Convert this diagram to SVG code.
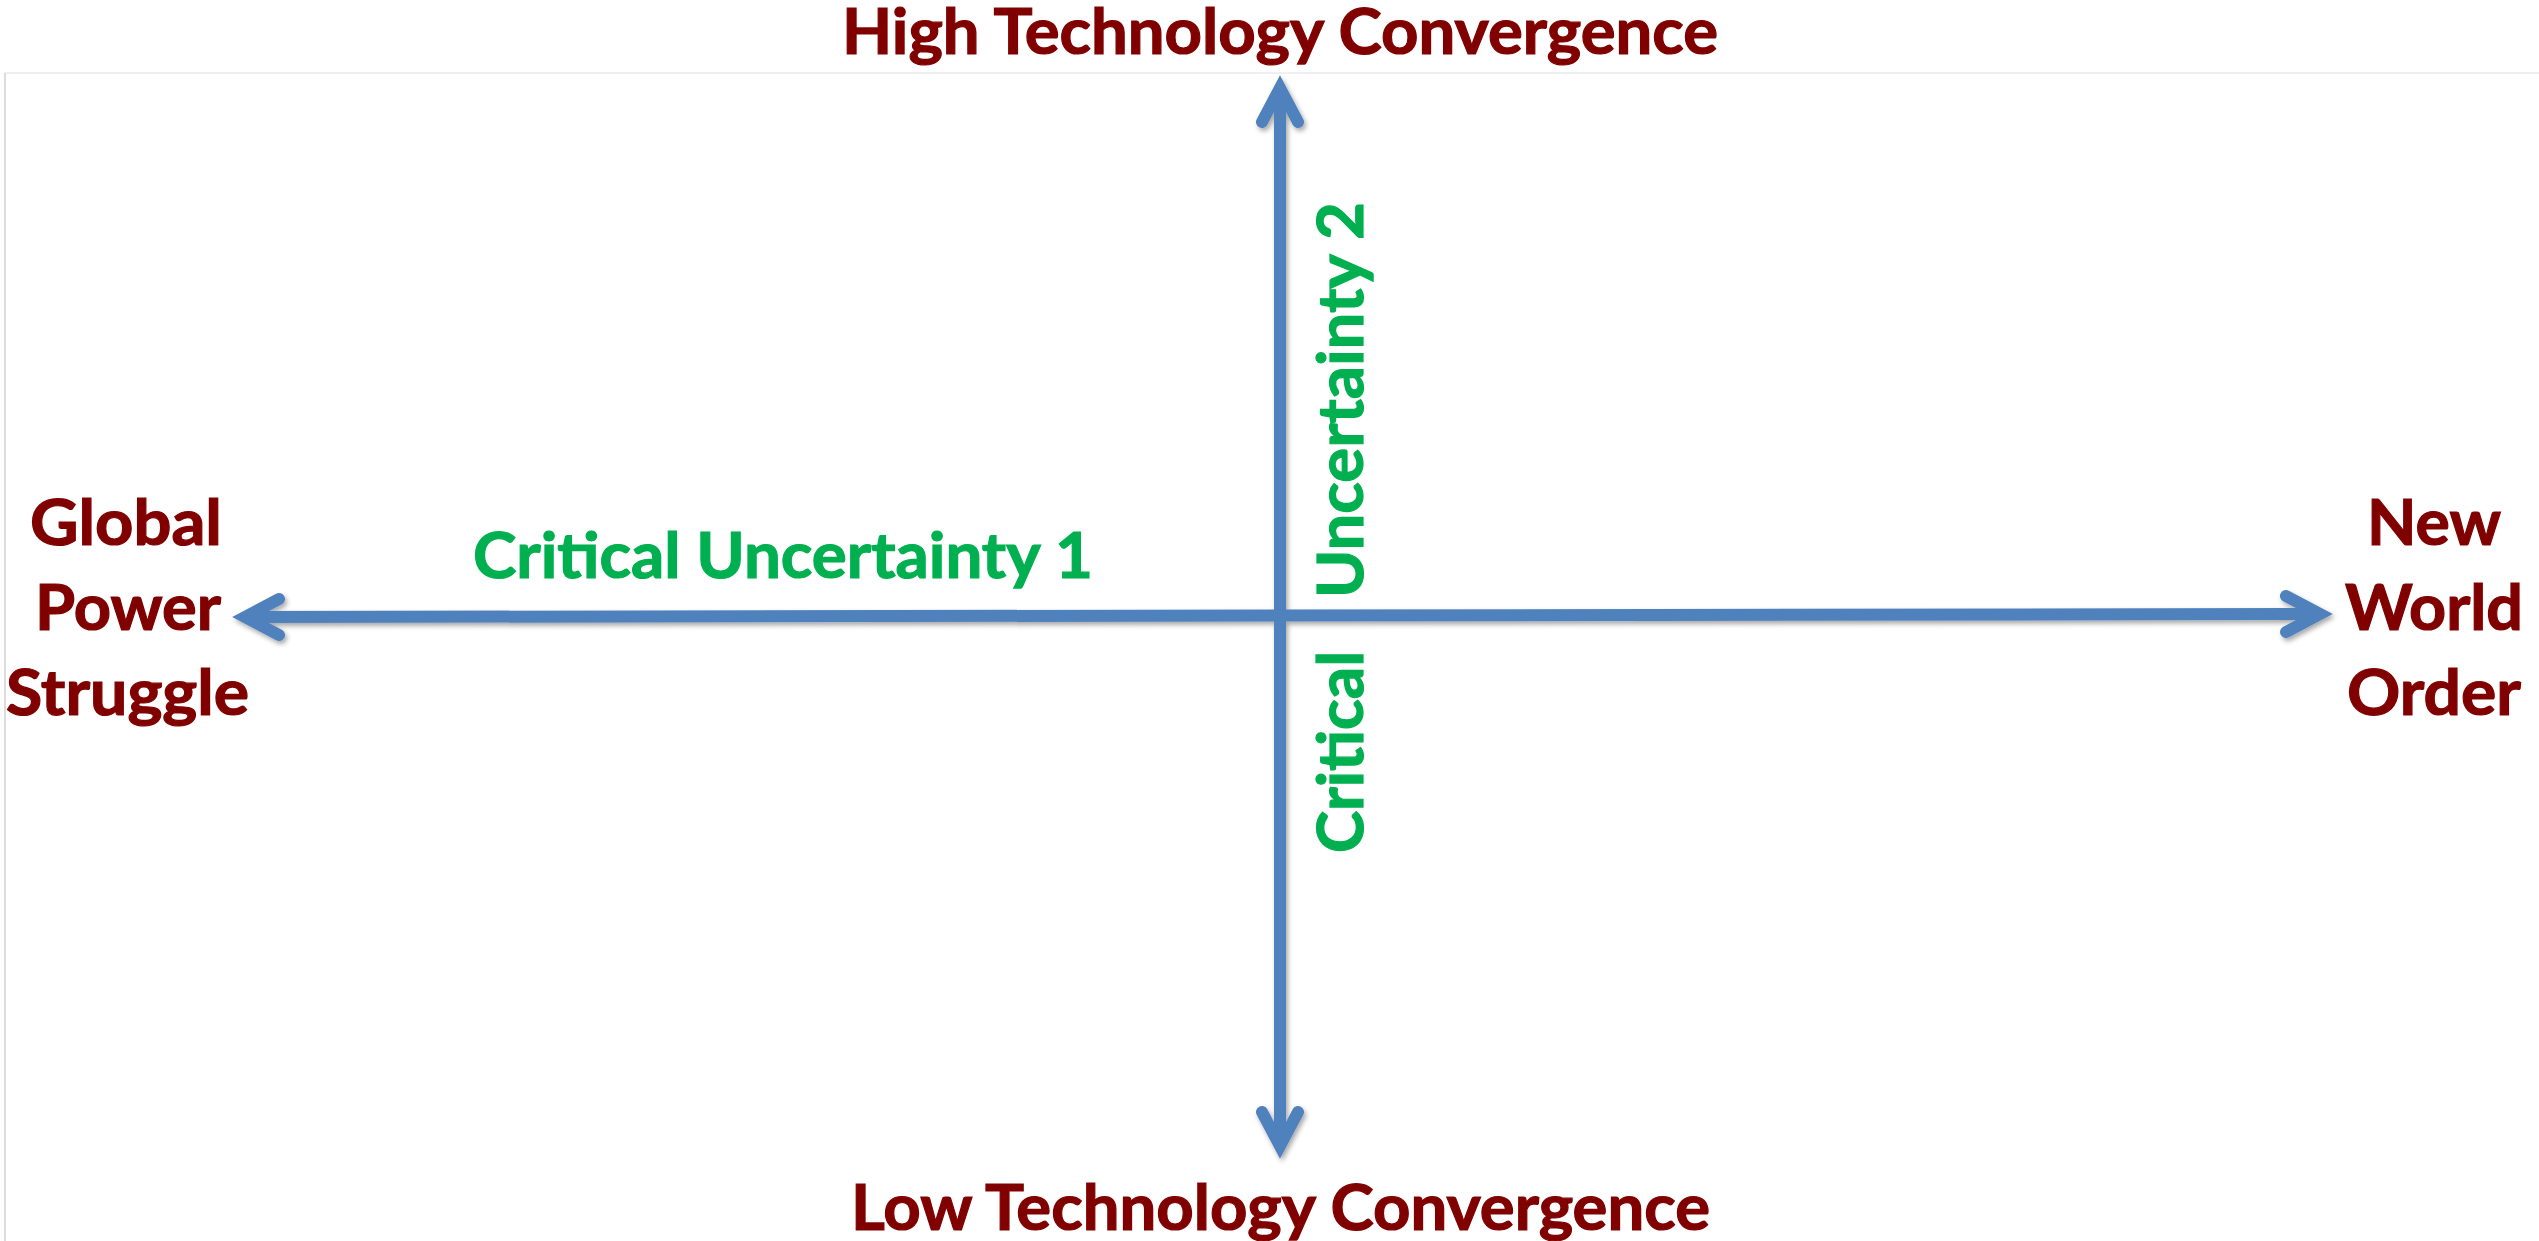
<svg xmlns="http://www.w3.org/2000/svg" width="2539" height="1241" viewBox="0 0 2539 1241">
  <style>
    .pole { font-family: Lato, "Liberation Sans", sans-serif; font-weight: bold; font-size: 64px; fill: #800000; stroke: #800000; stroke-width: 1.2; }
    .unc { font-family: Lato, "Liberation Sans", sans-serif; font-weight: bold; font-size: 64px; fill: #00B050; stroke: #00B050; stroke-width: 1.2; }
    .axis { stroke: #4F81BD; stroke-width: 12; fill: none; }
  </style>
  <defs>
    <filter id="shadow" x="-5%" y="-5%" width="110%" height="110%">
      <feDropShadow dx="2" dy="3" stdDeviation="2.5" flood-color="#000000" flood-opacity="0.35"/>
    </filter>
    <marker id="openArrow" markerUnits="userSpaceOnUse" viewBox="-50 -30 60 60" refX="0" refY="0" markerWidth="60" markerHeight="60" orient="auto-start-reverse" overflow="visible">
      <path d="M-34,-18 L0,0 L-34,18" stroke="#4F81BD" stroke-width="12" fill="none" stroke-linecap="round" stroke-linejoin="miter" stroke-miterlimit="10"/>
    </marker>
  </defs>
  <rect x="0" y="0" width="2539" height="1241" fill="#ffffff"/>
  <g id="frame">
    <line x1="4" y1="73" x2="2539" y2="73" stroke="#f0f0f0" stroke-width="2"/>
    <line x1="5" y1="73" x2="5" y2="1241" stroke="#dcdcdc" stroke-width="2"/>
  </g>
  <g id="connectors" filter="url(#shadow)">
    <line id="axis-vertical" class="axis" x1="1280" y1="1146" x2="1280" y2="88" marker-start="url(#openArrow)" marker-end="url(#openArrow)"/>
    <line id="axis-horizontal" class="axis" x1="245" y1="617" x2="2320" y2="614" marker-start="url(#openArrow)" marker-end="url(#openArrow)"/>
  </g>
  <g id="node-high">
    <text class="pole" x="842" y="54" textLength="876" lengthAdjust="spacingAndGlyphs">High Technology Convergence</text>
  </g>
  <g id="node-low">
    <text class="pole" x="851" y="1230" textLength="859" lengthAdjust="spacingAndGlyphs">Low Technology Convergence</text>
  </g>
  <g id="node-left">
    <text class="pole" x="30" y="545" textLength="192" lengthAdjust="spacingAndGlyphs">Global</text>
    <text class="pole" x="35" y="630" textLength="186" lengthAdjust="spacingAndGlyphs">Power</text>
    <text class="pole" x="6" y="715" textLength="243" lengthAdjust="spacingAndGlyphs">Struggle</text>
  </g>
  <g id="node-right">
    <text class="pole" x="2367" y="545" textLength="134" lengthAdjust="spacingAndGlyphs">New</text>
    <text class="pole" x="2345" y="630" textLength="178" lengthAdjust="spacingAndGlyphs">World</text>
    <text class="pole" x="2347" y="715" textLength="174" lengthAdjust="spacingAndGlyphs">Order</text>
  </g>
  <g id="label-uncertainty-1">
    <text class="unc" x="473" y="578" textLength="620" lengthAdjust="spacingAndGlyphs">Critical Uncertainty 1</text>
  </g>
  <g id="label-uncertainty-2">
    <text class="unc" transform="translate(1363,853) rotate(-90)" x="0" y="0" textLength="202" lengthAdjust="spacingAndGlyphs">Critical</text>
    <text class="unc" transform="translate(1363,598) rotate(-90)" x="0" y="0" textLength="396" lengthAdjust="spacingAndGlyphs">Uncertainty 2</text>
  </g>
</svg>
